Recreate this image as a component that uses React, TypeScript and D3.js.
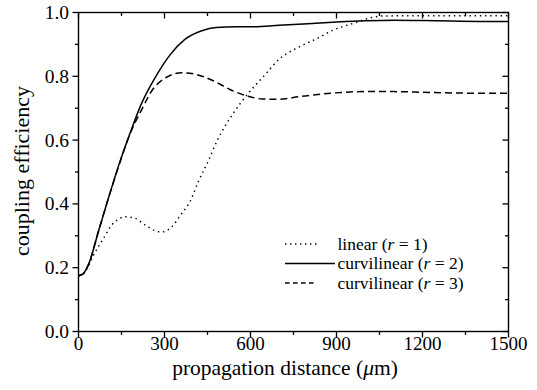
import React from "react";
import * as d3 from "d3";

const xLinear = [0, 15, 34, 50, 86, 116, 139, 162, 197, 232, 267, 290, 325, 360, 389, 418, 453, 482, 540, 587, 645, 703, 772, 831, 889, 958, 1017, 1060, 1200, 1350, 1500];
const yLinear = [0.175, 0.18, 0.205, 0.235, 0.29, 0.334, 0.352, 0.36, 0.355, 0.334, 0.316, 0.312, 0.328, 0.37, 0.407, 0.47, 0.535, 0.595, 0.684, 0.741, 0.799, 0.856, 0.893, 0.918, 0.945, 0.966, 0.983, 0.989, 0.99, 0.99, 0.99];

const xCurv2 = [0, 15, 34, 70, 100, 140, 180, 220, 270, 320, 370, 430, 480, 550, 600, 700, 800, 900, 1000, 1100, 1200, 1300, 1400, 1500];
const yCurv2 = [0.175, 0.18, 0.208, 0.315, 0.405, 0.52, 0.622, 0.715, 0.8, 0.868, 0.915, 0.943, 0.953, 0.955, 0.955, 0.96, 0.965, 0.97, 0.974, 0.976, 0.975, 0.973, 0.972, 0.972];

const xCurv3 = [0, 15, 34, 70, 100, 140, 180, 220, 260, 300, 360, 410, 470, 530, 590, 640, 700, 770, 880, 1000, 1100, 1200, 1300, 1400, 1500];
const yCurv3 = [0.175, 0.18, 0.208, 0.315, 0.405, 0.518, 0.62, 0.695, 0.76, 0.793, 0.811, 0.806, 0.786, 0.758, 0.738, 0.729, 0.728, 0.736, 0.747, 0.752, 0.752, 0.75, 0.748, 0.747, 0.747];

const xTicks = [0, 300, 600, 900, 1200, 1500];
const xMinor = [150, 450, 750, 1050, 1350];
const yTicks = [0, 0.2, 0.4, 0.6, 0.8, 1.0];
const yMinor = [0.1, 0.3, 0.5, 0.7, 0.9];

const seriesNames = ["linear", "curvilinear", "curvilinear"];
const seriesR = ["1", "2", "3"];

const L = 78.5, R = 508.5, T = 12.5, B = 331.5;
const FONT = "Liberation Serif, Times New Roman, serif";

export default function App() {
  const x = d3.scaleLinear().domain([0, 1500]).range([L, R]);
  const y = d3.scaleLinear().domain([0, 1]).range([B, T]);
  const line = (xs: number[], ys: number[]) =>
    d3.line<number>().x((_, i) => x(xs[i])).y((d) => y(d)).curve(d3.curveMonotoneX)(ys) || "";

  const series = [
    { d: line(xLinear, yLinear), dash: "1.4,3.8", legDash: "1.4,3.6" },
    { d: line(xCurv2, yCurv2), dash: "none", legDash: "none" },
    { d: line(xCurv3, yCurv3), dash: "7,4", legDash: "4.5,3.5" },
  ];
  const legY = [244, 263.5, 283];
  const legX2 = [317, 335, 316];

  return (
    <svg width={537} height={390} style={{ position: "absolute", left: 0, top: 0, background: "#fff", fontFamily: FONT }}>
      <rect x={0} y={0} width={537} height={390} fill="#fff" />
      {series.map((s, i) => (
        <path key={i} d={s.d} fill="none" stroke="#000" strokeWidth={1.5} strokeDasharray={s.dash} />
      ))}
      <rect x={L} y={T} width={R - L} height={B - T} fill="none" stroke="#000" strokeWidth={1.4} />
      {xTicks.map((t) => (
        <g key={"xt" + t}>
          <line x1={x(t)} x2={x(t)} y1={B} y2={B + 6} stroke="#000" strokeWidth={1.3} />
          <line x1={x(t)} x2={x(t)} y1={T} y2={T + 6} stroke="#000" strokeWidth={1.3} />
          <text x={x(t)} y={350} textAnchor="middle" fontSize={19}>{t}</text>
        </g>
      ))}
      {xMinor.map((t) => (
        <g key={"xm" + t}>
          <line x1={x(t)} x2={x(t)} y1={B} y2={B + 3.5} stroke="#000" strokeWidth={1.3} />
          <line x1={x(t)} x2={x(t)} y1={T} y2={T + 3.5} stroke="#000" strokeWidth={1.3} />
        </g>
      ))}
      {yTicks.map((t) => (
        <g key={"yt" + t}>
          <line x1={L - 6} x2={L} y1={y(t)} y2={y(t)} stroke="#000" strokeWidth={1.3} />
          <line x1={R - 6} x2={R} y1={y(t)} y2={y(t)} stroke="#000" strokeWidth={1.3} />
          <text x={69} y={y(t) + 6.5} textAnchor="end" fontSize={19.5}>{t.toFixed(1)}</text>
        </g>
      ))}
      {yMinor.map((t) => (
        <g key={"ym" + t}>
          <line x1={L - 3.5} x2={L} y1={y(t)} y2={y(t)} stroke="#000" strokeWidth={1.3} />
          <line x1={R - 3.5} x2={R} y1={y(t)} y2={y(t)} stroke="#000" strokeWidth={1.3} />
        </g>
      ))}
      <text x={285} y={375} textAnchor="middle" fontSize={21.5}>
        propagation distance (<tspan fontStyle="italic">μ</tspan>m)
      </text>
      <text transform="translate(29,171) rotate(-90)" textAnchor="middle" fontSize={22}>
        coupling efficiency
      </text>
      {series.map((s, i) => (
        <g key={"lg" + i}>
          <line x1={285} x2={legX2[i]} y1={legY[i]} y2={legY[i]} stroke="#000" strokeWidth={1.5} strokeDasharray={s.legDash} />
          <text x={337.5} y={legY[i] + 5.5} fontSize={17.5}>
            {seriesNames[i]} (<tspan fontStyle="italic">r</tspan> = {seriesR[i]})
          </text>
        </g>
      ))}
    </svg>
  );
}
